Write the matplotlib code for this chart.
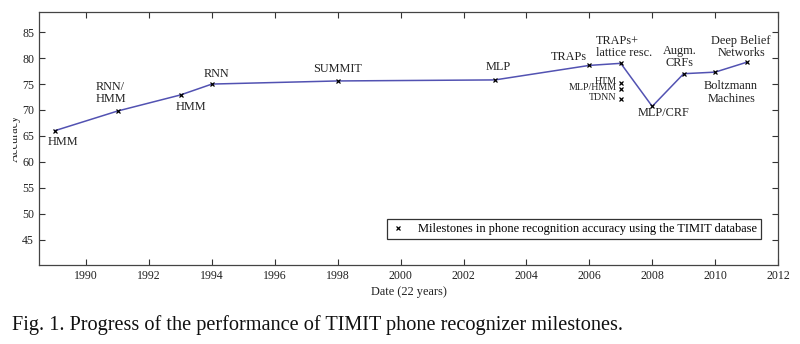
import matplotlib
matplotlib.use("Agg")
from matplotlib import pyplot as plt
from matplotlib.transforms import Bbox

# milestones on the main line
years = [1989, 1991, 1993, 1994, 1998, 2003, 2006, 2007, 2008, 2009, 2010, 2011]
accuracy = [66.0, 69.8, 72.9, 75.0, 75.6, 75.8, 78.6, 79.0, 70.7, 77.0, 77.3, 79.2]
labels = ["HMM", "RNN/\nHMM", "HMM", "RNN", "SUMMIT", "MLP", "TRAPs",
          "TRAPs+\nlattice resc.", "MLP/CRF", "Augm.\nCRFs", "Boltzmann\nMachines",
          "Deep Belief\nNetworks"]

# side results in 2007 (not on the line)
side_years = [2007, 2007, 2007]
side_accuracy = [75.2, 74.0, 72.1]
side_labels = ["HTM", "MLP/HMM", "TDNN"]

xticks = [1990, 1992, 1994, 1996, 1998, 2000, 2002, 2004, 2006, 2008, 2010, 2012]
yticks = [45, 50, 55, 60, 65, 70, 75, 80, 85]

# label offsets in pixels (dx, dy) and alignment
offsets = [(8, -11, "center"), (-7, 18, "center"), (10, -12.5, "center"), (5, 10, "center"),
           (0, 11.5, "center"), (3, 13, "center"), (-20, 8, "center"), (-24.5, 16.5, "left"),
           (11, -6.5, "center"), (-4, 16.5, "center"), (16, -20.5, "center"), (-5.5, 15.5, "center")]

plt.rcParams['font.family'] = ['Liberation Serif', 'DejaVu Serif']

fig = plt.figure(figsize=(8, 3.44), dpi=100)
ax = fig.add_axes([39/800., 1-265/344., (778-39)/800., (265-12)/344.])

ax.plot(years, accuracy, "-", color="#5252b2", lw=1.1, zorder=2)
ax.plot(years + side_years, accuracy + side_accuracy, "x", color="k", ms=3.2, mew=0.9,
        ls="none", zorder=3, label="Milestones in phone recognition accuracy using the TIMIT database")

for x, y, lab, (dx, dy, ha) in zip(years, accuracy, labels, offsets):
    ax.annotate(lab, (x, y), xytext=(dx, dy), textcoords="offset pixels",
                ha=ha, va="center", multialignment=ha, fontsize=8.8, linespacing=1.05,
                color="#222222")
for x, y, lab in zip(side_years, side_accuracy, side_labels):
    ax.annotate(lab, (x, y), xytext=(-4, 2), textcoords="offset pixels",
                ha="right", va="center", fontsize=7.2, color="#222222")

ax.set_xlim(1988.5, 2012)
ax.set_ylim(40.1, 88.9)
ax.set_xticks(xticks)
ax.set_yticks(yticks)
ax.tick_params(direction="in", top=True, right=True, length=4.5, width=0.8,
               labelsize=8.6, colors="#333333", labelcolor="#222222")
for sp in ax.spines.values():
    sp.set_color("#444444")
    sp.set_linewidth(0.9)

ax.set_xlabel("Date (22 years)", fontsize=8.9, labelpad=3, color="#222222")
ylab = ax.set_ylabel("Accuracy", fontsize=8.9, color="#222222")
ax.yaxis.set_label_coords(-0.0244, 0.5)
ylab.set_clip_box(Bbox([[13, 0], [800, 344]]))

leg = ax.legend(loc="lower right", bbox_to_anchor=(0.977, 0.103), borderaxespad=0,
                fancybox=False, framealpha=1, edgecolor="#333333", fontsize=8.95,
                handlelength=1.2, handletextpad=1.0, borderpad=0.3)
leg.get_frame().set_linewidth(0.9)

fig.text(12/800., 1-325/344., "Fig. 1. Progress of the performance of TIMIT phone recognizer milestones.",
         fontsize=14.6, va="center", ha="left", color="#111111")

fig.savefig("out.png", dpi=100)
